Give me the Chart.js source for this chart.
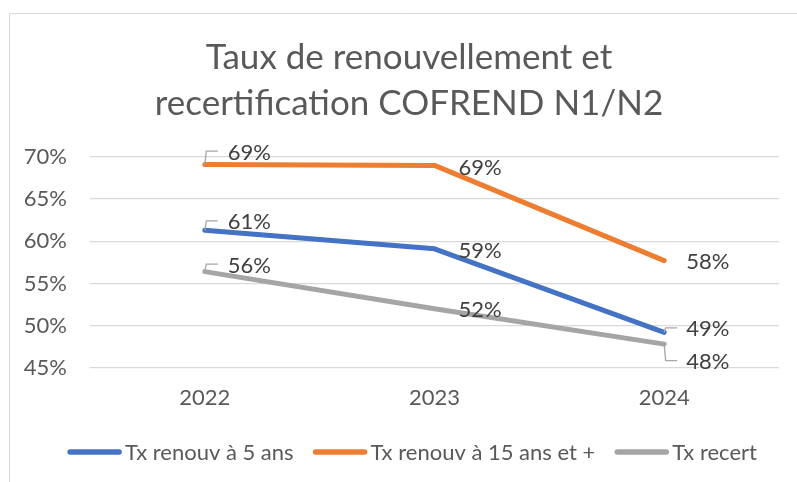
<!DOCTYPE html>
<html><head><meta charset="utf-8">
<script src="https://cdn.jsdelivr.net/npm/chart.js@4"></script>
<style>html,body{margin:0;padding:0;background:#fff;overflow:hidden;}</style>
</head><body>
<canvas id="c" width="797" height="482"></canvas>
<script>
// ---- data ----
const categories = ['2022', '2023', '2024'];
const seriesNames = ['Tx renouv à 5 ans', 'Tx renouv à 15 ans et +', 'Tx recert'];
const renouv5 = [61.3, 59.1, 49.2];
const renouv15 = [69.1, 69.0, 57.7];
const recert = [56.4, 52.0, 47.8];
const yTickValues = [45, 50, 55, 60, 65, 70];
const titleLines = ['Taux de renouvellement et', 'recertification COFREND N1/N2'];

// ---- styles ----
const colors = ['#4472C4', '#ED7D31', '#A5A5A5'];
const FONT = 'Lato, Carlito, Calibri, sans-serif';
const textColor = '#595959';
const labelColor = '#404040';
// label placement per series / point: dx, dy relative to the point, leader style
const labelPlacement = [
  [{dx: 23, dy: -8, leader: true}, {dx: 24, dy: 2, leader: false}, {dx: 22, dy: -3, leader: true}],
  [{dx: 23, dy: -12, leader: true}, {dx: 24, dy: 2, leader: false}, {dx: 22, dy: 1, leader: false}],
  [{dx: 23, dy: -6, leader: true}, {dx: 24, dy: 1, leader: false}, {dx: 22, dy: 18, leader: true}]
];

const decorPlugin = {
  id: 'decor',
  beforeDraw(chart) {
    const ctx = chart.ctx;
    ctx.save();
    ctx.fillStyle = '#fff';
    ctx.fillRect(0, 0, chart.width, chart.height);
    ctx.strokeStyle = '#d9d9d9';
    ctx.lineWidth = 1;
    ctx.beginPath();
    ctx.moveTo(9.5, chart.height);
    ctx.lineTo(9.5, 13.5);
    ctx.lineTo(chart.width, 13.5);
    ctx.stroke();
    // title
    ctx.fillStyle = textColor;
    ctx.font = '35px ' + FONT;
    ctx.textAlign = 'center';
    ctx.textBaseline = 'alphabetic';
    ctx.fillText(titleLines[0], 409, 69);
    ctx.fillText(titleLines[1], 409, 115);
    ctx.restore();
  },
  afterDraw(chart) {
    const ctx = chart.ctx;
    ctx.save();
    // data labels
    ctx.font = '22px ' + FONT;
    ctx.textBaseline = 'middle';
    ctx.textAlign = 'left';
    chart.data.datasets.forEach((ds, i) => {
      const meta = chart.getDatasetMeta(i);
      meta.data.forEach((pt, j) => {
        const p = labelPlacement[i][j];
        const tx = pt.x + p.dx, ty = pt.y + p.dy;
        if (p.leader) {
          const ly = ty - 1.5;
          ctx.strokeStyle = '#a6a6a6';
          ctx.lineWidth = 1.3;
          ctx.beginPath();
          ctx.moveTo(pt.x, pt.y);
          ctx.lineTo(pt.x + 1.5, ly);
          ctx.lineTo(pt.x + 13, ly);
          ctx.stroke();
        }
        ctx.fillStyle = labelColor;
        ctx.fillText(Math.round(ds.data[j]) + '%', tx, ty);
      });
    });
    // legend
    const legendY = 452;
    const swatch = 55, gapText = 3, gapItem = 19;
    ctx.font = '22px ' + FONT;
    const widths = chart.data.datasets.map(ds => ctx.measureText(ds.label).width);
    let total = 0;
    widths.forEach((w, i) => { total += swatch + gapText + w + (i < widths.length - 1 ? gapItem : 0); });
    let x = 412 - total / 2;
    chart.data.datasets.forEach((ds, i) => {
      ctx.strokeStyle = ds.borderColor;
      ctx.lineWidth = 5.5;
      ctx.lineCap = 'round';
      ctx.beginPath();
      ctx.moveTo(x + 3, legendY);
      ctx.lineTo(x + swatch - 3, legendY);
      ctx.stroke();
      ctx.fillStyle = textColor;
      ctx.textBaseline = 'middle';
      ctx.fillText(ds.label, x + swatch + gapText, legendY + 1);
      x += swatch + gapText + widths[i] + gapItem;
    });
    ctx.restore();
  }
};

const seriesValues = [renouv5, renouv15, recert];
new Chart(document.getElementById('c'), {
  type: 'line',
  data: {
    labels: categories,
    datasets: seriesValues.map((vals, i) => ({
      label: seriesNames[i],
      data: vals,
      borderColor: colors[i],
      backgroundColor: colors[i],
      borderWidth: 5,
      borderCapStyle: 'round',
      borderJoinStyle: 'round',
      pointRadius: 0,
      pointHoverRadius: 0,
      tension: 0,
      fill: false
    }))
  },
  options: {
    responsive: false,
    animation: false,
    devicePixelRatio: 1,
    layout: {padding: {top: 157, left: 0, right: 18, bottom: 0}},
    plugins: {
      legend: {display: false},
      title: {display: false},
      tooltip: {enabled: false}
    },
    scales: {
      x: {
        offset: true,
        grid: {display: false, drawTicks: false},
        border: {display: false},
        ticks: {color: textColor, font: {family: FONT, size: 22}, padding: 17},
        afterFit(scale) { scale.height = 114.3; }
      },
      y: {
        min: 45, max: 70,
        afterBuildTicks(scale) { scale.ticks = yTickValues.map(v => ({value: v})); },
        grid: {color: '#d9d9d9', lineWidth: 1.3, drawTicks: false},
        border: {display: false},
        ticks: {color: textColor, font: {family: FONT, size: 22}, padding: 23,
          callback: v => v + '%'},
        afterFit(scale) { scale.width = 90; }
      }
    }
  },
  plugins: [decorPlugin]
});
</script></body></html>
